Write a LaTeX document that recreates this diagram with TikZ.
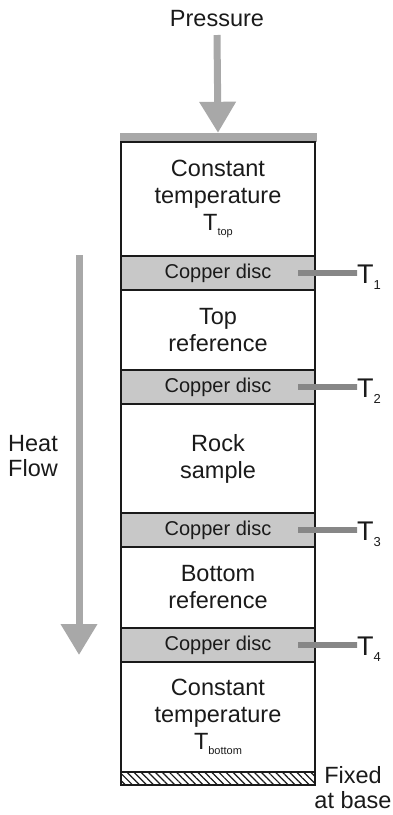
\documentclass[tikz,border=0pt]{standalone}
\usepackage{fontspec}
\setmainfont{Liberation Sans}
\usetikzlibrary{arrows.meta,patterns.meta}
\definecolor{arrowgray}{HTML}{A8A8A8}
\definecolor{discgray}{HTML}{C8C8C8}
\definecolor{wiregray}{HTML}{878787}
\definecolor{ink}{HTML}{1A1A1A}
\newcommand{\lowsub}[2]{\raisebox{#1}{\fontsize{11}{11}\selectfont #2}}
\tikzset{
  layer/.style={draw=ink, line width=2.4pt, minimum width=194pt, inner sep=0pt,
    align=center, text=ink, font=\fontsize{23.5}{27}\selectfont},
  disc/.style={layer, fill=discgray, minimum height=34pt, font=\fontsize{20}{24}\selectfont},
  wire/.style={draw=wiregray, line width=6pt},
  tlabel/.style={text=ink, font=\fontsize{27}{30}\selectfont, inner sep=0pt, anchor=base west},
  bigarrow/.style={draw=arrowgray, line width=7pt, -{Triangle[length=31pt,width=35pt]}},
  lbl/.style={text=ink, font=\fontsize{23.5}{25}\selectfont, inner sep=0pt}
}
\begin{document}
\begin{tikzpicture}[x=1pt,y=-1pt]
\useasboundingbox (0,0) rectangle (393,815);
% pressure plate
\node[fill=arrowgray, minimum width=197pt, minimum height=9pt, inner sep=0pt] (plate) at (218,137.5) {};
% layers
\node[layer, minimum height=114pt] (ctop) at (218,199) {Constant\\temperature\\T\lowsub{-5pt}{top}};
\node[disc] (cu1) at (218,273) {Copper disc};
\node[layer, minimum height=80pt] (topref) at (218,330) {Top\\reference};
\node[disc] (cu2) at (218,387) {Copper disc};
\node[layer, minimum height=109pt] (rock) at (218,458.5) {Rock\\sample};
\node[disc] (cu3) at (218,530) {Copper disc};
\node[layer, minimum height=81pt] (botref) at (218,587.5) {Bottom\\reference};
\node[disc] (cu4) at (218,645) {Copper disc};
\node[layer, minimum height=110pt] (cbot) at (218,717) {Constant\\temperature\\T\lowsub{-5pt}{bottom}};
\node[draw=ink, line width=1.6pt, minimum width=194pt, minimum height=13pt, inner sep=0pt,
  pattern={Lines[angle=-45,distance=5pt,line width=1.2pt]}, pattern color=ink] (base) at (218,778.5) {};
% pressure
\node[lbl, anchor=base] (pressure) at (217,26) {Pressure};
\coordinate (pstart) at (217,35);
\draw[bigarrow] (pstart) -- (plate.north);
% heat flow
\coordinate (hf1) at (79,255);
\coordinate (hf2) at (79,655);
\draw[bigarrow] (hf1) -- (hf2);
\node[lbl, align=left, anchor=west] (heat) at (8,456) {Heat\\Flow};
% fixed at base
\node[lbl, align=center] (fixed) at (353,788) {Fixed\\at base};
% thermocouples
\foreach \i/\y in {1/273,2/387,3/530,4/645}{
  \coordinate (w\i) at (298,\y);
  \node[tlabel] (t\i) at (357,\y+10) {T\raisebox{-6pt}{\fontsize{13}{13}\selectfont \i}};
  \draw[wire] (w\i) -- (w\i -| t\i.west) -- ++(-4,0);
}
\end{tikzpicture}
\end{document}
